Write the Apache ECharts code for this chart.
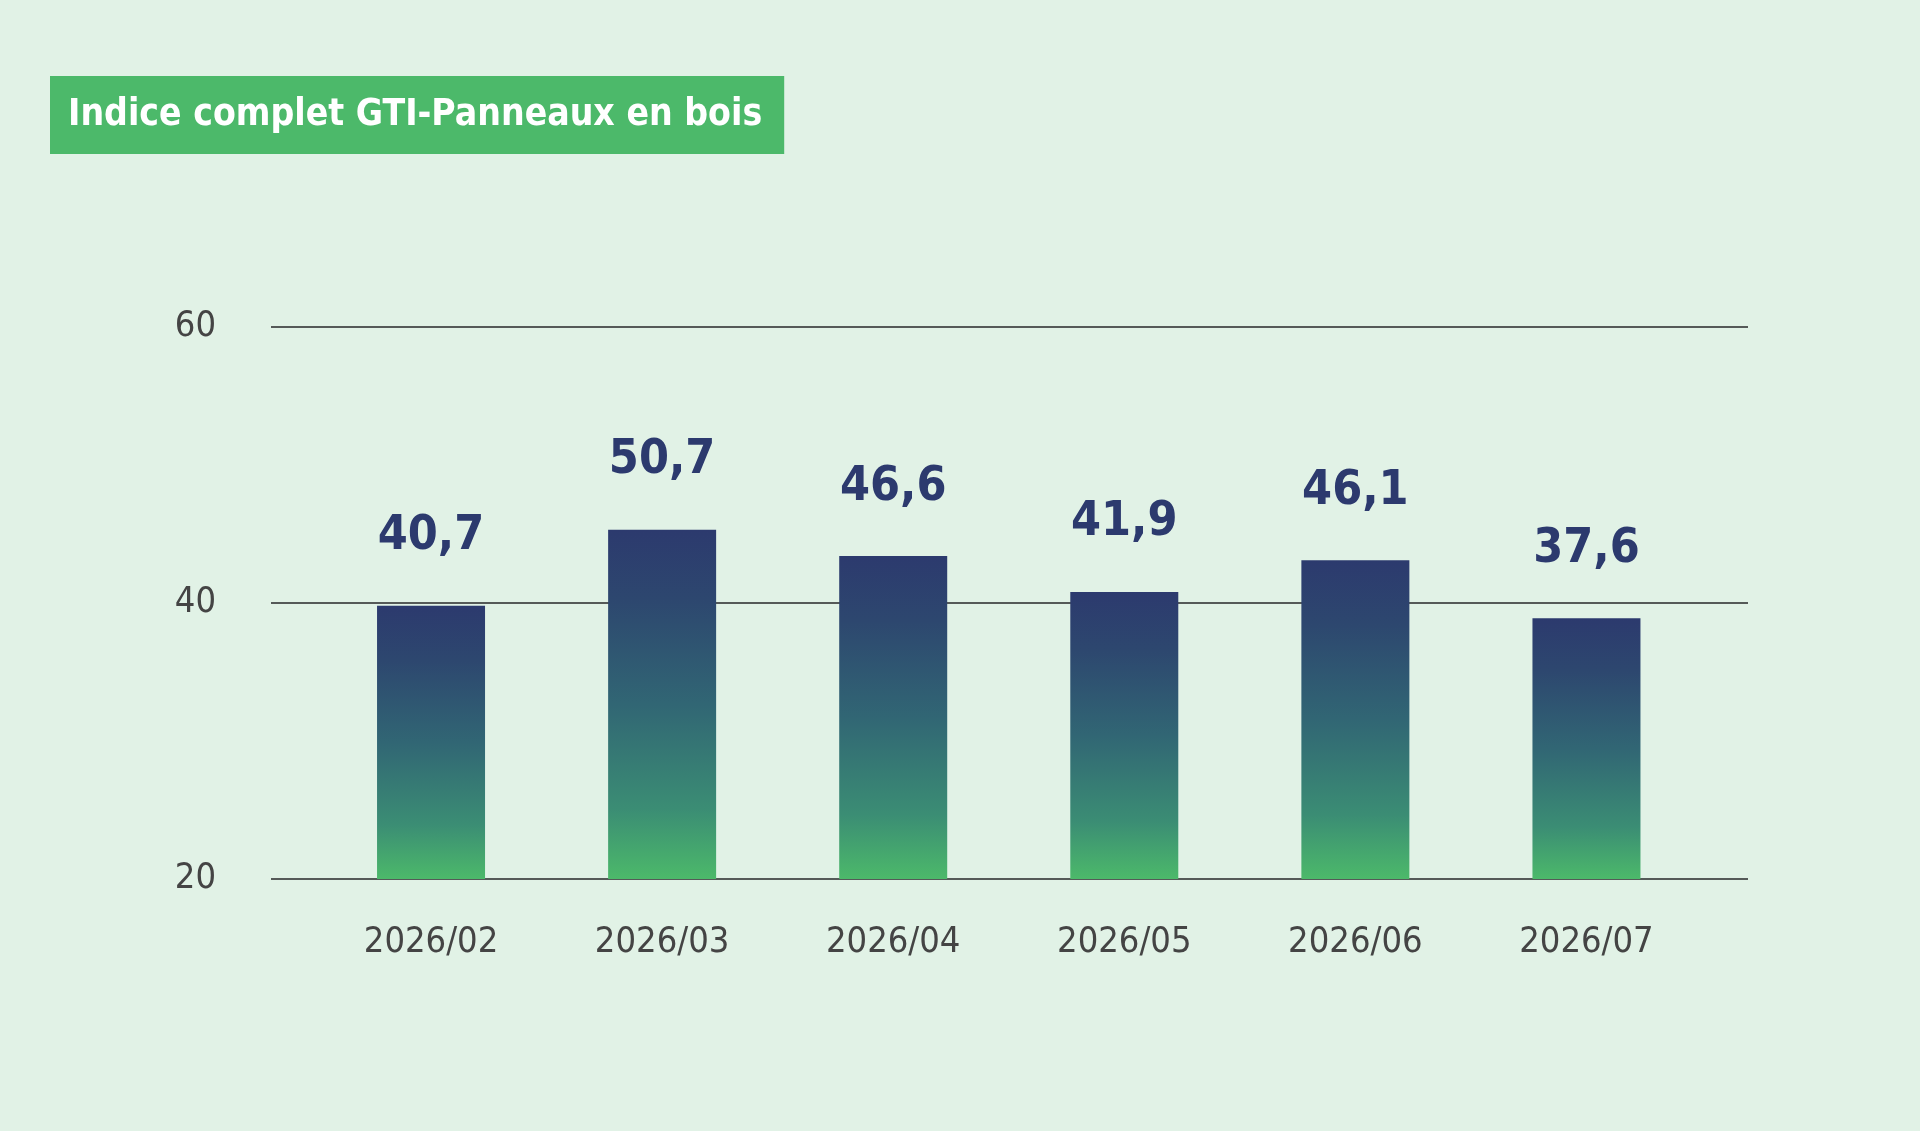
<!DOCTYPE html>
<html>
<head>
<meta charset="utf-8">
<script src="https://cdn.jsdelivr.net/npm/echarts@6/dist/echarts.min.js"></script>
<style>
html,body{margin:0;padding:0;background:#e1f2e6;}
#c{width:1920px;height:1131px;}
</style>
</head>
<body>
<div id="c"></div>
<script>
const titleText = 'Indice complet GTI-Panneaux en bois';
const categories = ['2026/02','2026/03','2026/04','2026/05','2026/06','2026/07'];
const barValues = [39.8, 45.3, 43.4, 40.8, 43.1, 38.9];
const labelTexts = ['40,7','50,7','46,6','41,9','46,1','37,6'];
const yTicks = [20, 40, 60];

const FONT = '"DejaVu Sans Condensed", "Liberation Sans Narrow", sans-serif';

const chart = echarts.init(document.getElementById('c'), null, {renderer:'canvas'});
chart.setOption({
  backgroundColor: '#e1f2e6',
  animation: false,
  title: {
    text: titleText,
    left: 50, top: 76,
    backgroundColor: '#4cb96a',
    padding: [0, 22, 0, 18],
    textStyle: {color:'#ffffff', fontFamily: FONT, fontWeight:'bold', fontSize: 37, lineHeight: 78}
  },
  grid: [
    {left: 271, right: 172, top: 327, bottom: 252},
    {left: 315.5, width: 1386.5, top: 327, bottom: 252}
  ],
  xAxis: [
    {gridIndex:0, type:'value', min:0, max:1, show:false},
    {gridIndex:1, type:'category', data: categories,
     axisLine:{show:false}, axisTick:{show:false}, splitLine:{show:false},
     axisLabel:{interval:0, color:'#444444', fontFamily: FONT, fontSize: 36, margin: 46}}
  ],
  yAxis: [
    {gridIndex:0, type:'value', min: yTicks[0], max: yTicks[yTicks.length-1], interval: 20,
     axisLine:{show:false}, axisTick:{show:false},
     splitLine:{show:true, lineStyle:{color:'#555a58', width:2}},
     axisLabel:{color:'#444444', fontFamily: FONT, fontSize: 36, margin: 55}},
    {gridIndex:1, type:'value', min: yTicks[0], max: yTicks[yTicks.length-1], interval: 20, show:false,
     splitLine:{show:false}}
  ],
  series: [{
    type:'bar', xAxisIndex:1, yAxisIndex:1,
    data: barValues,
    barWidth: 108,
    itemStyle: {
      color: new echarts.graphic.LinearGradient(0,0,0,1,[
        {offset:0, color:'#2c3a6e'},
        {offset:0.2, color:'#2d476f'},
        {offset:0.5, color:'#316674'},
        {offset:0.8, color:'#3b8d74'},
        {offset:1, color:'#4cb96a'}
      ])
    },
    label: {
      show:true, position:'top', distance: 45,
      formatter: p => labelTexts[p.dataIndex],
      color:'#2c3a6e', fontFamily: FONT, fontWeight:'bold', fontSize: 48
    }
  }]
});
</script>
</body>
</html>
